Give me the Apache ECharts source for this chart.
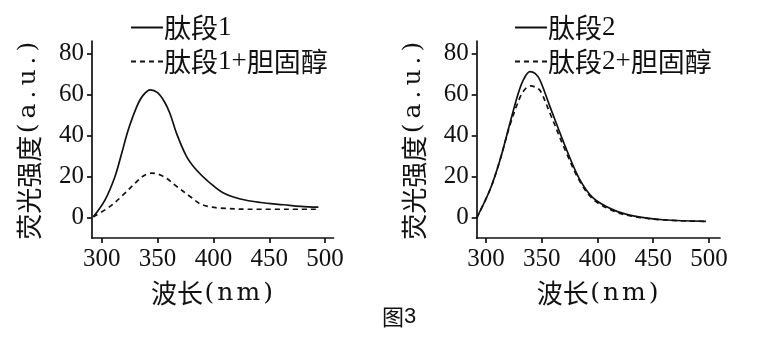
<!DOCTYPE html>
<html>
<head>
<meta charset="utf-8">
<script src="https://cdn.jsdelivr.net/npm/echarts@6/dist/echarts.min.js"></script>
<style>
  html, body { margin: 0; padding: 0; background: #fff; }
  #chart { width: 757px; height: 347px; }
</style>
</head>
<body>
<div id="chart"></div>
<script>
// Fluorescence emission spectra, wavelength (nm) vs intensity (a.u.)
const xTicks = [300, 350, 400, 450, 500];
const yTicks = [0, 20, 40, 60, 80];

const names1 = ['肽段1', '肽段1+胆固醇'];
const names2 = ['肽段2', '肽段2+胆固醇'];

const peptide1 = [
  [292.5, 0.3], [303, 8.6], [311.9, 20], [317.9, 31.3], [323.8, 42.7], [331.4, 54],
  [337, 59.5], [343.5, 62.2], [350, 60.8], [356, 56.5], [361, 50.8], [367, 41],
  [376, 29.7], [385, 23], [395.5, 17.5], [409, 11.9], [424, 9], [442, 7.3],
  [463, 6.2], [478, 5.4], [494, 5]
];
const peptide1Chol = [
  [292.5, 0.3], [307.5, 5.4], [319.4, 11.1], [331.4, 17.5], [338, 20.5], [344.8, 21.6],
  [355.2, 20], [367.2, 15.1], [379.1, 10.2], [388, 6.7], [397, 5.2], [406, 4.6],
  [432.8, 4], [492.6, 4]
];
const peptide2 = [
  [291.6, -0.3], [303.6, 13.5], [312.6, 28], [321.5, 45.9], [329, 60.5], [334, 67.5],
  [339.5, 71.1], [344, 70.2], [348.4, 67], [357.4, 54], [372.3, 33], [384.3, 18.3],
  [396.3, 9.4], [414.2, 3.7], [432.1, 0.8], [459, -1.1], [497.3, -1.9]
];
const peptide2Chol = [
  [291.6, -0.3], [303.6, 13.5], [312.6, 28], [321.5, 45], [330.5, 58.5], [335, 62.5],
  [340, 64.1], [345, 63.3], [349, 61.5], [357.4, 50.8], [372.3, 31.3], [384.3, 17.5],
  [396.3, 8.8], [414.2, 3.2], [432.1, 0.5], [459, -1.2], [497.3, -1.9]
];

const serif = '"DejaVu Serif", "Liberation Serif", serif';
const digitSerif = '"Liberation Serif", "DejaVu Serif", serif';
const cjk = '"Noto Sans CJK SC", sans-serif';
const ink = '#111';

// Split a label into rich-text runs: CJK runs in a sans CJK face,
// every Latin glyph on its own so it can be given a little extra spacing.
function toRich(str, latinKey) {
  let out = '';
  let run = '';
  for (const ch of str) {
    if (/[\u4e00-\u9fff]/.test(ch)) {
      run += ch;
    } else {
      if (run) { out += '{c|' + run + '}'; run = ''; }
      out += '{' + latinKey + '|' + ch + '}';
    }
  }
  if (run) out += '{c|' + run + '}';
  return out;
}

const cjkName = { fontFamily: cjk, fontSize: 26, color: ink };
const latinName = (pad) => ({
  fontFamily: serif, fontSize: 25, color: ink, padding: [0, pad]
});

function xAxis(gridIndex, min, max) {
  return {
    type: 'value', gridIndex, min, max,
    name: toRich('波长(nm)', 'l'),
    nameLocation: 'middle', nameGap: 42,
    nameTextStyle: { rich: { c: cjkName, l: latinName(1.5) } },
    splitLine: { show: false },
    axisLine: { onZero: false, lineStyle: { color: ink, width: 1.7 } },
    axisTick: { customValues: xTicks, length: 5, lineStyle: { color: ink, width: 1.7 } },
    axisLabel: { customValues: xTicks, margin: 9, fontFamily: digitSerif, fontSize: 25, color: ink }
  };
}
function yAxis(gridIndex) {
  return {
    type: 'value', gridIndex, min: -10, max: 86,
    name: toRich('荧光强度(a.u.)', 'l'),
    nameLocation: 'middle', nameGap: 50,
    nameTextStyle: { rich: { c: cjkName, l: latinName(2.5) } },
    splitLine: { show: false },
    axisLine: { onZero: false, lineStyle: { color: ink, width: 1.7 } },
    axisTick: { customValues: yTicks, length: 5, lineStyle: { color: ink, width: 1.7 } },
    axisLabel: { customValues: yTicks, margin: 8, fontFamily: digitSerif, fontSize: 25, color: ink }
  };
}
function line(name, data, idx, dashed) {
  return {
    name, type: 'line', data, xAxisIndex: idx, yAxisIndex: idx,
    smooth: 0.35, symbol: 'none', silent: true,
    lineStyle: { color: ink, width: 1.7, type: dashed ? [5, 4] : 'solid' },
    itemStyle: { color: ink }
  };
}
function legend(left, data) {
  return {
    data, left, top: 9, orient: 'vertical',
    itemWidth: 32, itemHeight: 14, itemGap: 7,
    selectedMode: false,
    itemStyle: { opacity: 0 },
    formatter: (n) => toRich(n, 'd'),
    textStyle: {
      color: ink, padding: [0, 0, 0, -4],
      rich: {
        c: { fontFamily: cjk, fontSize: 27, color: ink },
        d: { fontFamily: digitSerif, fontSize: 27, color: ink }
      }
    }
  };
}

const chart = echarts.init(document.getElementById('chart'), null, { renderer: 'canvas' });
chart.setOption({
  animation: false,
  backgroundColor: '#fff',
  grid: [
    { left: 92, top: 41, width: 241.5, height: 197 },
    { left: 476.7, top: 41, width: 243.3, height: 197 }
  ],
  xAxis: [xAxis(0, 291.3, 507.5), xAxis(1, 291.7, 509.9)],
  yAxis: [yAxis(0), yAxis(1)],
  legend: [legend(125, names1), legend(509, names2)],
  series: [
    line(names1[0], peptide1, 0, false),
    line(names1[1], peptide1Chol, 0, true),
    line(names2[0], peptide2, 1, false),
    line(names2[1], peptide2Chol, 1, true)
  ],
  title: {
    text: '{c|图}{d|3}', left: 377, top: 301,
    textStyle: {
      fontWeight: 'normal',
      rich: {
        c: { fontFamily: cjk, fontSize: 22, fontWeight: 'normal', color: ink },
        d: { fontFamily: '"Liberation Sans", sans-serif', fontSize: 22, fontWeight: 'normal', color: ink }
      }
    }
  }
});
</script>
</body>
</html>
